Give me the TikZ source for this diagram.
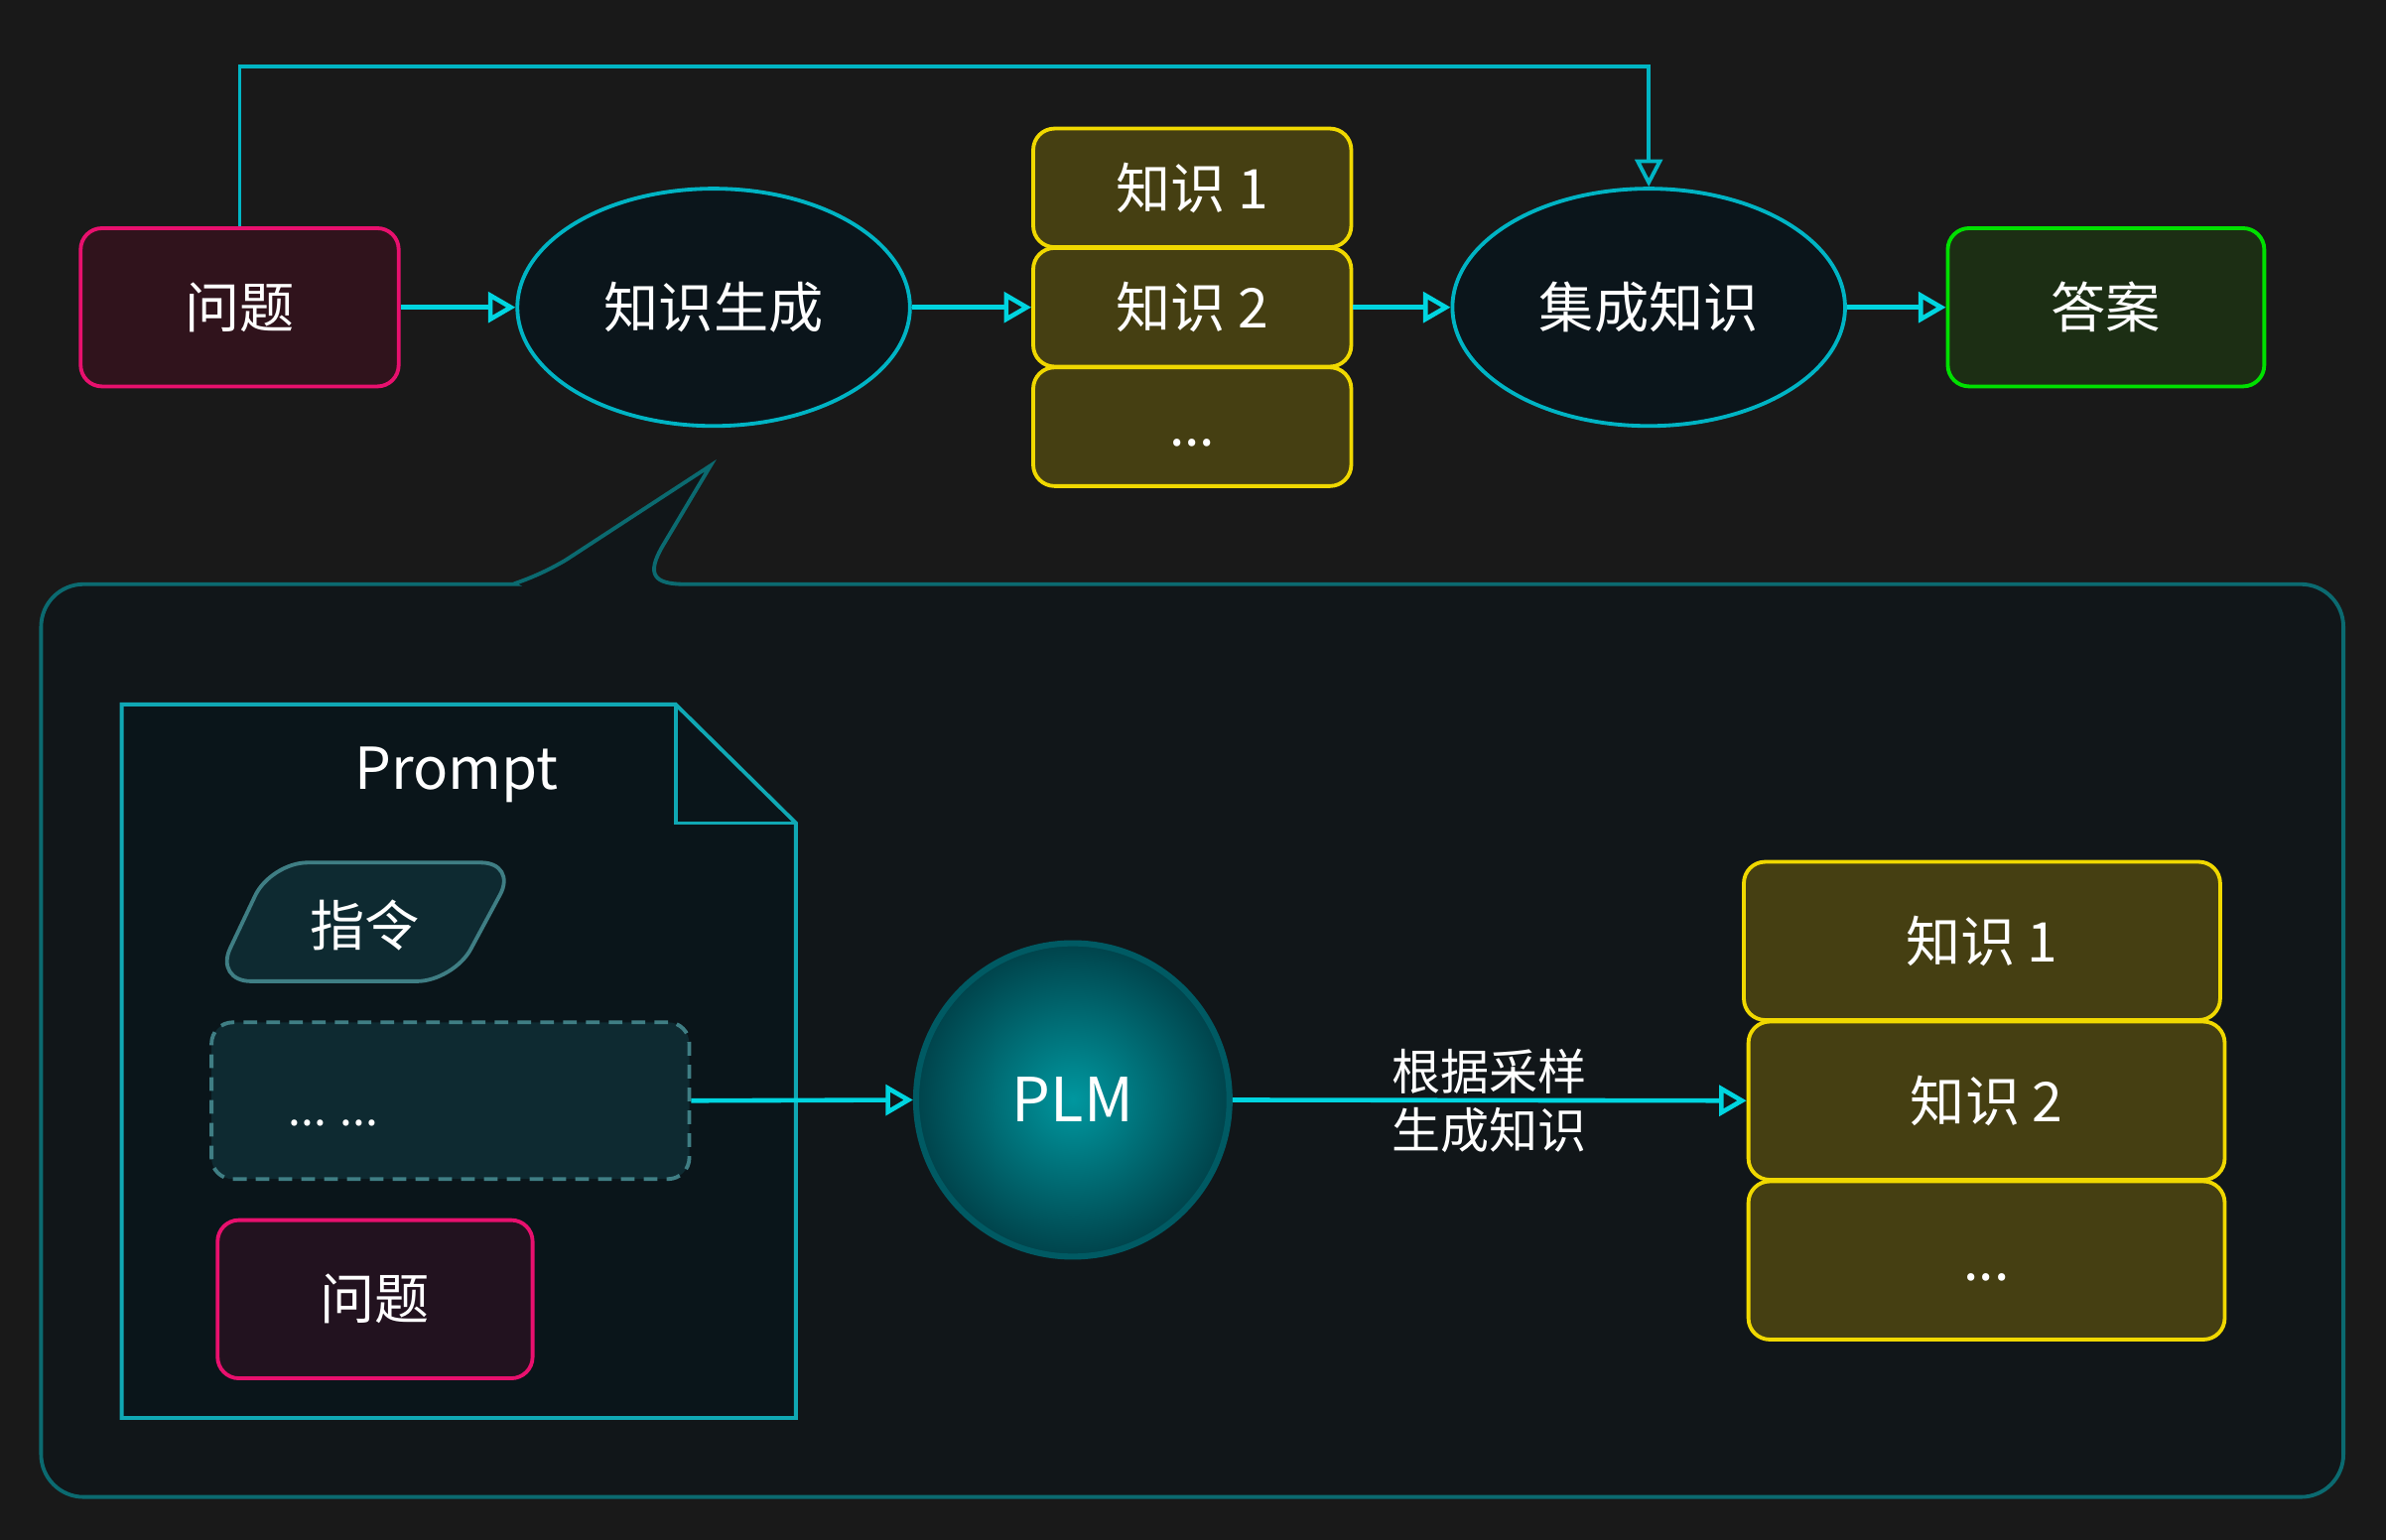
\documentclass[tikz,border=0pt]{standalone}
\usepackage{fontspec}
\setmainfont{Noto Sans CJK SC}
\usetikzlibrary{shapes.geometric,arrows.meta}
\definecolor{bgc}{HTML}{191919}
\definecolor{pinkb}{HTML}{E8106E}
\definecolor{pinkf}{HTML}{30131C}
\definecolor{pinkf2}{HTML}{22121F}
\definecolor{yelb}{HTML}{F0D800}
\definecolor{yelf}{HTML}{453F12}
\definecolor{grnb}{HTML}{00E000}
\definecolor{grnf}{HTML}{1C2E14}
\definecolor{ellb}{HTML}{00B4C4}
\definecolor{ellf}{HTML}{0B151B}
\definecolor{contb}{HTML}{0B6A70}
\definecolor{contf}{HTML}{111619}
\definecolor{docb}{HTML}{10A8B4}
\definecolor{docf}{HTML}{0A151A}
\definecolor{instf}{HTML}{0E2A31}
\definecolor{instb}{HTML}{3F7E84}
\definecolor{plmb}{HTML}{005A63}
\definecolor{plmin}{HTML}{00979F}
\definecolor{plmout}{HTML}{00434B}
\definecolor{arrc}{HTML}{00D5E0}
\definecolor{topc}{HTML}{00B5C4}
\tikzset{
  txt/.style={text=white,font=\fontsize{36}{40}\selectfont},
  boxbase/.style={draw,rectangle,rounded corners=14pt,line width=2.5pt,txt,inner sep=0pt},
  qbox/.style={boxbase,draw=pinkb,fill=pinkf,minimum width=209pt,minimum height=104pt},
  abox/.style={boxbase,draw=grnb,fill=grnf,minimum width=208pt,minimum height=104pt},
  kbox/.style={boxbase,draw=yelb,fill=yelf,minimum width=209pt,minimum height=78pt},
  bkbox/.style={boxbase,draw=yelb,fill=yelf,minimum width=313pt,minimum height=104pt},
  ell/.style={draw=ellb,fill=ellf,ellipse,line width=2.5pt,minimum width=258pt,minimum height=156pt,txt,inner sep=0pt},
  arr/.style={draw=arrc,line width=3pt,-{Triangle[open,length=18pt,width=20pt,line width=3pt]}},
  toparr/.style={draw=topc,line width=2.5pt,-{Triangle[open,length=18pt,width=18pt,line width=2.5pt]}},
  lbl/.style={text=white,font=\fontsize{32}{36}\selectfont,inner sep=3pt},
}
\begin{document}
\begin{tikzpicture}[x=1pt,y=-1pt]
\useasboundingbox (0,0) rectangle (1568,1012);
\fill[bgc] (0,0) rectangle (1568,1012);

% container with callout
\draw[draw=contb,fill=contf,line width=2.5pt]
  (310,384) .. controls (335,384) and (350,381) .. (372,368) -- (467,306) -- (436,358)
  .. controls (424,378) and (430,384) .. (450,384)
  [rounded corners=28pt] -- (1540,384) -- (1540,984) -- (27,984) -- (27,384) -- cycle;

% top row
\node[qbox] (q) at (157.5,202) {问题};
\node[ell] (gen) at (469,202) {知识生成};
\node[kbox] (k1) at (783.5,123.5) {知识 1};
\node[kbox] (k2) at (783.5,202) {知识 2};
\node[kbox] (k3) at (783.5,280.5) {};
\node[txt] (k3t) at (783.5,291) {...};
\node[ell] (int) at (1083.5,202) {集成知识};
\node[abox] (ans) at (1384,202) {答案};

\draw[arr] (q.east) -- (gen.west);
\draw[arr] (gen.east) -- (k2.west);
\draw[arr] (k2.east) -- (int.west);
\draw[arr] (int.east) -- (ans.west);
\draw[toparr] (q.north) -- ++(0,-105) -| (int.north);

% prompt document
\draw[draw=docb,fill=docf,line width=2.5pt] (80,463) -- (444,463) -- (523,541) -- (523,932) -- (80,932) -- cycle;
\draw[draw=docb,line width=2.5pt] (444,463) -- (444,541) -- (523,541);
\node[txt,font=\fontsize{38}{42}\selectfont] (ptitle) at (300,509) {Prompt};

% instruction blob
\draw[draw=instb,fill=instf,line width=2.5pt,rounded corners=24pt]
  (178,567) -- (340,567) -- (298,645) -- (141,645) -- cycle;
\node[txt] (inst) at (240,608) {指令};

% dashed box
\node[draw=instb,fill=instf,dashed,dash pattern=on 9pt off 6pt,line width=2.5pt,rounded corners=14pt,
      minimum width=314pt,minimum height=103pt,inner sep=0pt] (dots) at (296,723.5) {};
\node[txt,font=\fontsize{30}{34}\selectfont] (dotstext) at (219,738) {... ...};

% inner question
\node[qbox,fill=pinkf2,minimum width=207pt] (q2) at (246.5,854) {问题};

% PLM
\node[circle,draw=plmb,line width=4pt,inner color=plmin,outer color=plmout,minimum size=206pt,
      txt,font=\fontsize{40}{44}\selectfont,inner sep=0pt] (plm) at (705,723) {PLM};

% bottom stack
\node[bkbox] (bk1) at (1302.5,618.5) {知识 1};
\node[bkbox] (bk2) at (1305.5,723.5) {知识 2};
\node[bkbox] (bk3) at (1305.5,828.5) {};
\node[txt] (bk3t) at (1305.5,840) {...};

\draw[arr] (dots.east) -- (plm.west);
\draw[arr] (plm.east) -- node[lbl,above] (l1) {根据采样} node[lbl,below] (l2) {生成知识} (bk2.west);
\end{tikzpicture}
\end{document}
